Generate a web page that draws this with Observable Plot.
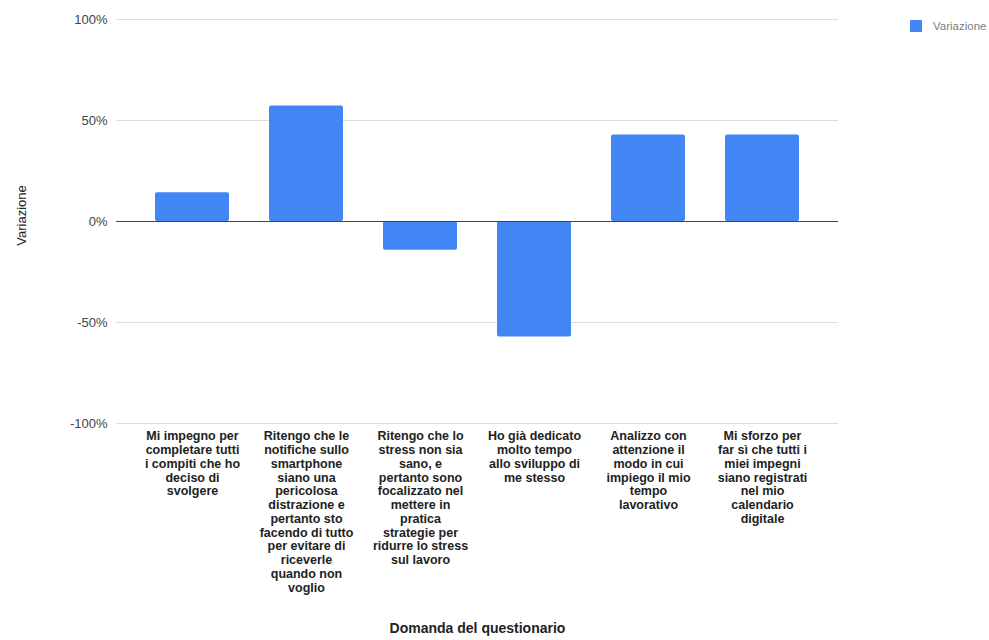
<!DOCTYPE html>
<html>
<head>
<meta charset="utf-8">
<script src="https://cdn.jsdelivr.net/npm/d3@7"></script>
<script src="https://cdn.jsdelivr.net/npm/@observablehq/plot@0.6"></script>
<style>
  html, body { margin: 0; padding: 0; background: #fff; }
  #wrap { position: relative; width: 989px; height: 640px; }
  #legend { position: absolute; left: 910px; top: 20px; font: 11.5px "Liberation Sans", Arial, sans-serif; color: #808080; display: flex; align-items: center; }
  #legend .sw { width: 12px; height: 12px; background: #4285F4; margin-right: 11px; border-radius: 1px; }
</style>
</head>
<body>
<div id="wrap"><div id="legend"><span class="sw"></span><span>Variazione</span></div></div>
<script>
const categories = [
  "Mi impegno per\ncompletare tutti\ni compiti che ho\ndeciso di\nsvolgere",
  "Ritengo che le\nnotifiche sullo\nsmartphone\nsiano una\npericolosa\ndistrazione e\npertanto sto\nfacendo di tutto\nper evitare di\nriceverle\nquando non\nvoglio",
  "Ritengo che lo\nstress non sia\nsano, e\npertanto sono\nfocalizzato nel\nmettere in\npratica\nstrategie per\nridurre lo stress\nsul lavoro",
  "Ho già dedicato\nmolto tempo\nallo sviluppo di\nme stesso",
  "Analizzo con\nattenzione il\nmodo in cui\nimpiego il mio\ntempo\nlavorativo",
  "Mi sforzo per\nfar sì che tutti i\nmiei impegni\nsiano registrati\nnel mio\ncalendario\ndigitale"
];
const values = [0.1429, 0.5714, -0.1429, -0.5714, 0.4286, 0.4286];
const yTicks = [-1, -0.5, 0, 0.5, 1];
const yTitle = "Variazione";
const xTitle = "Domanda del questionario";

const data = categories.map((c, i) => ({cat: c, value: values[i]}));

const chart = Plot.plot({
  width: 989,
  height: 640,
  marginLeft: 116,
  marginRight: 151,
  marginTop: 19,
  marginBottom: 217,
  style: {fontFamily: "'Liberation Sans', Arial, sans-serif", background: "#fff", overflow: "visible"},
  x: {domain: categories, paddingInner: 0.35, paddingOuter: 0.34, axis: null},
  y: {domain: [-1, 1], ticks: yTicks, axis: null},
  marks: [
    Plot.ruleY(yTicks.filter(d => d !== 0), {stroke: "#dcdcdc", strokeWidth: 1}),
    Plot.barY(data, {x: "cat", y: "value", fill: "#4285F4", rx: 2}),
    Plot.ruleY([0], {stroke: "#444", strokeWidth: 1}),
    Plot.axisY(yTicks, {tickSize: 0, tickPadding: 9, fontSize: 13, fill: "#444", label: null,
      tickFormat: d => Math.round(d * 100) + "%"}),
    Plot.text(data, {x: "cat", y: () => -1, text: "cat", lineAnchor: "top", dy: 7,
      fontSize: 12.5, fontWeight: "bold", fill: "#222", lineHeight: 1.1, textAnchor: "middle"}),
    Plot.text([yTitle], {frameAnchor: "left", rotate: -90, dx: -95, dy: -6, fontSize: 13, fill: "#222", textAnchor: "middle"}),
    Plot.text([xTitle], {frameAnchor: "bottom", dy: 209, fontSize: 14, fontWeight: "bold", fill: "#222", textAnchor: "middle"})
  ]
});
document.getElementById("wrap").prepend(chart);
</script>
</body>
</html>
